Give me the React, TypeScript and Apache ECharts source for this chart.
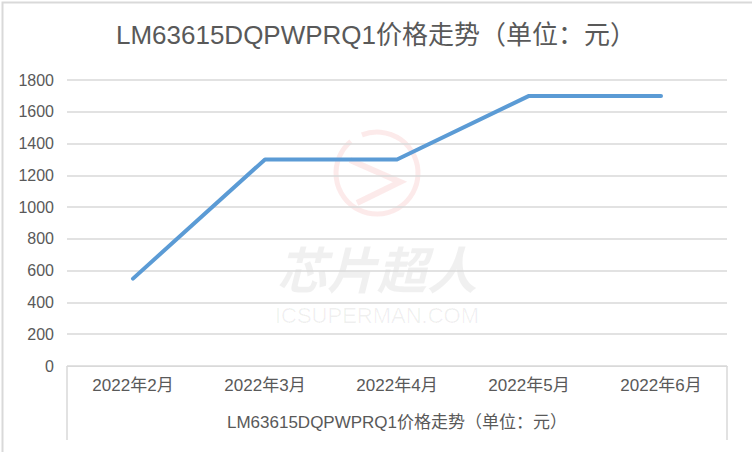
import React, { useEffect, useRef } from "react";
import * as echarts from "echarts";

const TITLE = "LM63615DQPWPRQ1价格走势（单位：元）";
const categories = ["2022年2月", "2022年3月", "2022年4月", "2022年5月", "2022年6月"];
const prices = [550, 1300, 1300, 1700, 1700];
const yMin = 0;
const yMax = 1800;
const yStep = 200;

export default function App() {
  const ref = useRef<HTMLDivElement>(null);
  useEffect(() => {
    document.body.style.margin = "0";
    const chart = echarts.init(ref.current!, null, { renderer: "svg" });
    const textColor = "#595959";
    const gridColor = "#d9d9d9";
    const wm = "rgba(230,90,90,0.13)";
    chart.setOption({
      animation: false,
      backgroundColor: "#ffffff",
      title: {
        text: TITLE,
        left: "center",
        top: 22,
        padding: 0,
        textStyle: {
          fontFamily: "Liberation Sans, Noto Sans CJK SC",
          fontSize: 26,
          fontWeight: "normal",
          color: textColor,
        },
      },
      grid: { left: 67, right: 25, top: 80, bottom: 86 },
      xAxis: {
        type: "category",
        data: categories,
        boundaryGap: true,
        name: TITLE,
        nameLocation: "middle",
        nameGap: 48,
        nameTextStyle: {
          fontFamily: "Liberation Sans, Noto Sans CJK SC",
          fontSize: 17,
          color: textColor,
        },
        axisLine: { show: true, lineStyle: { color: gridColor, width: 1 } },
        axisTick: { show: false },
        axisLabel: {
          fontFamily: "Liberation Sans, Noto Sans CJK SC",
          fontSize: 17,
          color: textColor,
          margin: 11,
        },
        splitLine: { show: false },
      },
      yAxis: {
        type: "value",
        min: yMin,
        max: yMax,
        interval: yStep,
        axisLine: { show: false },
        axisTick: { show: false },
        axisLabel: {
          fontFamily: "Liberation Sans, Noto Sans CJK SC",
          fontSize: 16,
          color: textColor,
          margin: 13,
          formatter: (v: number) => String(v),
        },
        splitLine: { show: true, lineStyle: { color: gridColor, width: 1.5 } },
      },
      series: [
        {
          type: "line",
          data: prices,
          showSymbol: false,
          symbol: "none",
          lineStyle: { color: "#5B9BD5", width: 4, cap: "round", join: "round" },
          itemStyle: { color: "#5B9BD5" },
          z: 2,
        },
      ],
      graphic: [
        {
          type: "rect",
          left: 0,
          top: 0,
          shape: { x: 0, y: 0, width: 751, height: 451 },
          style: { fill: "none", stroke: "#d9d9d9", lineWidth: 2 },
          silent: true,
          z: 0,
        },
        {
          type: "line",
          shape: { x1: 67, y1: 366, x2: 67, y2: 440 },
          style: { stroke: gridColor, lineWidth: 1.5 },
          silent: true,
        },
        {
          type: "line",
          shape: { x1: 727, y1: 366, x2: 727, y2: 440 },
          style: { stroke: gridColor, lineWidth: 1.5 },
          silent: true,
        },
        {
          type: "group",
          z: 100,
          silent: true,
          children: [
            {
              type: "arc",
              shape: { cx: 377, cy: 173, r: 41, startAngle: -Math.PI * 0.62, endAngle: Math.PI * 1.28 },
              style: { stroke: wm, lineWidth: 5, fill: "none" },
            },
            {
              type: "polyline",
              shape: { points: [[350, 160], [400, 182], [357, 203]] },
              style: { stroke: wm, lineWidth: 6, fill: "none", lineJoin: "miter" },
            },
            {
              type: "text",
              x: 377,
              y: 267,
              style: {
                text: "芯片超人",
                fontFamily: "Noto Sans CJK SC",
                fontSize: 50,
                fontWeight: "bold",
                fontStyle: "italic",
                fill: "rgba(0,0,0,0.06)",
                align: "center",
                verticalAlign: "middle",
              },
            },
            {
              type: "text",
              x: 377,
              y: 315,
              style: {
                text: "ICSUPERMAN.COM",
                fontFamily: "Liberation Sans",
                fontSize: 22,
                fill: "rgba(0,0,0,0.06)",
                align: "center",
                verticalAlign: "middle",
              },
            },
          ],
        },
      ],
    });
    return () => chart.dispose();
  }, []);
  return <div ref={ref} style={{ width: 752, height: 452 }} />;
}
